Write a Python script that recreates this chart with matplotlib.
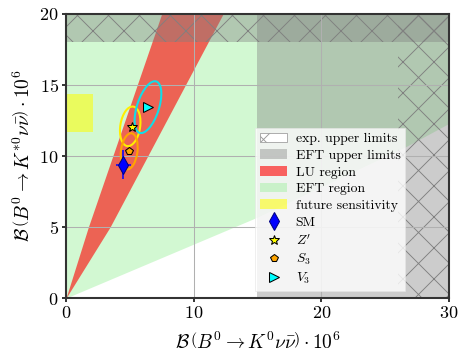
import numpy as np
import matplotlib
matplotlib.use("Agg")
import matplotlib.pyplot as plt
from matplotlib.patches import Ellipse, Patch

plt.rcParams['font.family'] = 'serif'
plt.rcParams['font.serif'] = ['cmr10', 'DejaVu Serif']
plt.rcParams['mathtext.fontset'] = 'cm'
plt.rcParams['axes.unicode_minus'] = False
plt.rcParams['axes.formatter.use_mathtext'] = True
plt.rcParams['hatch.linewidth'] = 0.35

# EFT region: lower edge of the allowed area (x, y in units of 1e-6)
eft_lo_x = [0, 15, 26.7, 30]
eft_lo_y = [0, 5.7, 10.7, 12.3]

# LU region: wedge edges sampled in y
lu_y = [0, 5, 20]
lu_x_left = [0, 1.75, 7.49]
lu_x_right = [0, 3.45, 12.3]

# future sensitivity box
fut_x = [0, 2.1]
fut_y = [11.7, 14.4]

# upper limits
eft_xmax, eft_ymax = 15, 18
exp_xmax, exp_ymax = 26, 18

# SM point with errors
sm_x, sm_y = 4.5, 9.4
sm_xerr, sm_yerr = 0.6, 1.0

# model points
models = ["$Z'$", "$S_3$", "$V_3$"]
model_x = [5.14, 4.93, 6.4]
model_y = [12.06, 10.37, 13.45]
# ellipse (center x, center y, width, height, angle)
ell_cx = [5.03, 4.95, 6.42]
ell_cy = [12.09, 10.33, 13.44]
ell_w = [1.55, 1.29, 1.7]
ell_h = [2.82, 2.57, 3.85]
ell_ang = [-10.4, -8.8, -20.7]

dpi = 186
fig = plt.figure(figsize=(459 / dpi, 354 / dpi), dpi=dpi)
ax = fig.add_axes([0.1438, 0.158, 0.8344, 0.8025])

# regions
ax.fill_between(eft_lo_x, eft_lo_y, 20, color='lightgreen', alpha=0.4, lw=0, zorder=1)
ax.fill_betweenx(lu_y, lu_x_left, lu_x_right, color='red', alpha=0.6, lw=0, zorder=1.1)
ax.fill_between(fut_x, fut_y[0], fut_y[1], color='yellow', alpha=0.55, lw=0, zorder=1.2)
ax.axvspan(eft_xmax, 30, color='gray', alpha=0.4, lw=0, zorder=1.3)
ax.axhspan(eft_ymax, 20, color='gray', alpha=0.4, lw=0, zorder=1.3)
ax.axvspan(exp_xmax, 30, fill=False, hatch='xx', edgecolor='gray', lw=0, zorder=1.4)
ax.axhspan(exp_ymax, 20, fill=False, hatch='xx', edgecolor='gray', lw=0, zorder=1.4)

# ellipses
ell_colors = ['#ffee00', 'orange', '#11dde8']
for i in range(3):
    ax.add_patch(Ellipse((ell_cx[i], ell_cy[i]), ell_w[i], ell_h[i], angle=ell_ang[i],
                         fill=False, edgecolor=ell_colors[i], lw=0.8, zorder=4))

# points
ax.errorbar(sm_x, sm_y, xerr=sm_xerr, yerr=sm_yerr, fmt='none', ecolor='blue',
            elinewidth=0.6, capsize=0, zorder=5)
ax.plot(sm_x, sm_y, 'd', color='blue', mec='navy', mew=0.4, ms=5, ls='none', zorder=6)
mk = ['*', 'p', '>']
mc = ['yellow', 'orange', 'cyan']
ms = [4.2, 3.2, 3.6]
for i in range(3):
    ax.plot(model_x[i], model_y[i], mk[i], color=mc[i], mec='black', mew=0.4,
            ms=ms[i], ls='none', zorder=6)

ax.set_xlim(0, 30)
ax.set_ylim(0, 20)
ax.set_xticks([0, 10, 20, 30])
ax.set_yticks([0, 5, 10, 15, 20])
ax.grid(True, color='#b0b0b0', lw=0.4, zorder=2.5)
ax.set_axisbelow(False)
ax.tick_params(labelsize=7, length=1.6, width=0.6, pad=1.2)
for s in ax.spines.values():
    s.set_linewidth(0.8)
    s.set_color('0.2')
    s.set_zorder(7)

ax.set_xlabel(r'$\mathcal{B}\,\left(B^0\to K^0\nu\bar{\nu}\right)\cdot 10^6$', fontsize=7.5, labelpad=4)
ax.set_ylabel(r'$\mathcal{B}\,\left(B^0\to K^{*0}\nu\bar{\nu}\right)\cdot 10^6$', fontsize=7.5, labelpad=2)

handles = [
    Patch(facecolor='white', edgecolor='0.6', hatch='xx', lw=0.3),
    Patch(facecolor='gray', alpha=0.4, lw=0),
    Patch(facecolor='red', alpha=0.6, lw=0),
    Patch(facecolor='lightgreen', alpha=0.4, lw=0),
    Patch(facecolor='yellow', alpha=0.55, lw=0),
    plt.Line2D([], [], marker='d', color='blue', mec='navy', mew=0.4, ms=5, ls='none'),
]
for i in range(3):
    handles.append(plt.Line2D([], [], marker=mk[i], color=mc[i], mec='black', mew=0.4,
                              ms=ms[i], ls='none'))
labels = ['exp. upper limits', 'EFT upper limits', 'LU region', 'EFT region',
          'future sensitivity', 'SM'] + models
leg = ax.legend(handles, labels, loc='lower right', bbox_to_anchor=(0.904, 0.0),
                fontsize=5.3, labelspacing=0.3, handletextpad=0.6, borderpad=0.35,
                frameon=True, framealpha=0.8, edgecolor='0.9', fancybox=False)
leg.set_zorder(8)
leg.get_frame().set_linewidth(0.3)

fig.savefig('out.png', dpi=dpi)
